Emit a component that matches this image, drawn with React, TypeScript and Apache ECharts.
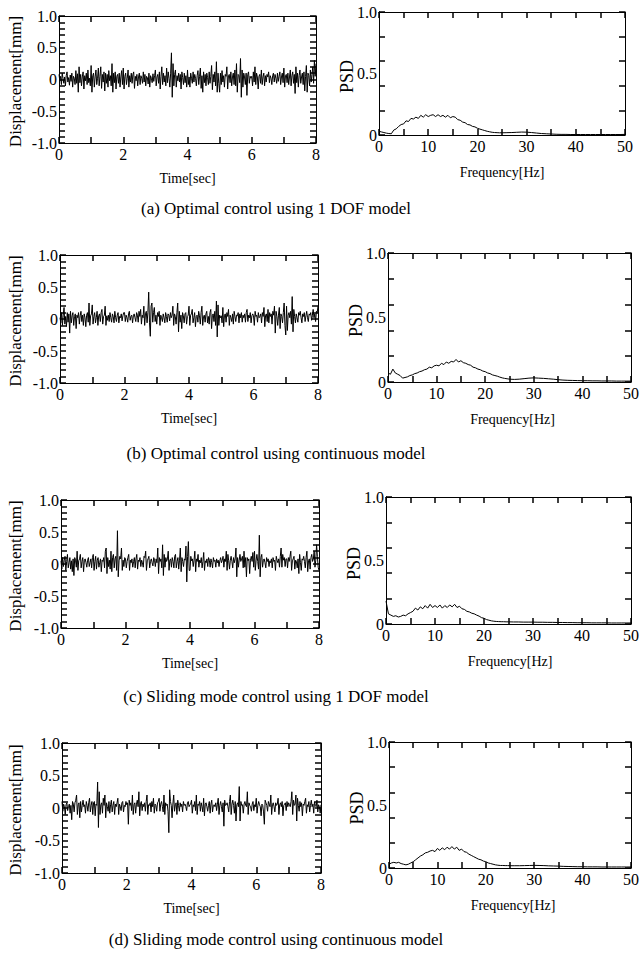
import React, { useEffect, useRef } from 'react';
import * as echarts from 'echarts';

// ---------- DATA ----------
const TIME_STEP = 0.025; // s, sample spacing of the displacement records
const TIME_TICKS = [0, 2, 4, 6, 8];
const FREQ_TICKS = [0, 10, 20, 30, 40, 50];

const DISP_A = [
  0.08,-0.02,0.05,-0.08,0.1,0.02,-0.06,0.04,-0.1,0.06,0.12,-0.04,0.03,-0.09,0.07,-0.03,0.1,-0.12,0.05,0.02,
  -0.08,0.14,-0.06,0.09,-0.2,0.2,-0.05,0.08,-0.1,0.04,0.12,-0.15,0.06,-0.02,0.1,-0.08,0.15,-0.05,0.02,-0.1,
  0.22,-0.2,0.06,0.1,-0.12,0.04,0.15,-0.08,0.02,0.18,-0.1,0.05,0.2,-0.14,0.08,-0.04,0.12,-0.18,0.1,-0.06,
  0.08,-0.12,0.14,-0.02,0.06,-0.1,0.25,-0.2,0.1,-0.05,0.12,-0.15,0.05,0.08,-0.06,0.1,-0.12,0.04,0.14,-0.08,
  0.18,-0.15,0.05,0.1,-0.08,0.02,0.15,-0.12,0.06,-0.04,0.1,-0.06,0.08,0.12,-0.14,0.05,-0.02,0.08,-0.1,0.04,
  0.1,-0.08,0.06,0.02,-0.06,0.12,-0.04,0.08,-0.1,0.05,0.03,-0.07,0.1,-0.12,0.06,0.02,-0.05,0.09,-0.03,0.06,
  0.15,-0.1,0.04,0.08,-0.06,0.12,-0.15,0.05,0.2,-0.08,0.1,-0.04,0.06,-0.1,0.18,-0.05,0.12,0.02,-0.12,0.1,
  0.42,-0.28,0.25,-0.1,0.08,0.15,-0.12,0.06,-0.02,0.1,-0.04,0.08,-0.15,0.12,0.03,-0.08,0.1,-0.05,0.06,-0.12,
  0.15,-0.08,0.04,-0.12,0.1,0.02,-0.06,0.12,-0.04,0.08,0.02,-0.1,0.06,0.14,-0.08,0.05,0.18,-0.14,0.06,-0.2,
  0.12,-0.05,0.08,-0.1,0.1,0.03,-0.08,0.12,-0.06,0.05,0.22,-0.16,0.08,-0.04,0.12,-0.1,0.28,-0.2,0.1,-0.06,
  -0.2,0.1,-0.08,0.14,-0.04,0.06,-0.12,0.08,0.05,0.2,-0.15,0.06,0.08,-0.05,0.12,-0.1,0.04,0.1,-0.08,0.15,
  -0.1,0.25,-0.2,0.08,0.06,-0.05,0.33,-0.28,0.15,-0.12,0.1,0.04,-0.08,0.1,-0.25,0.08,0.12,-0.06,0.05,0.02,
  0.05,-0.1,0.12,-0.04,0.2,-0.08,0.1,0.04,-0.15,0.05,0.08,-0.06,0.15,-0.08,0.04,0.1,-0.1,0.06,-0.04,0.08,
  0.04,0.12,-0.05,0.06,0.02,-0.08,0.06,0.1,-0.04,0.08,0.02,-0.06,0.1,-0.03,0.05,0.12,-0.08,0.04,0.1,-0.05,
  0.18,-0.12,0.06,0.08,-0.05,0.1,-0.08,0.04,0.15,-0.1,0.06,0.12,-0.06,0.08,-0.22,0.2,-0.05,0.1,-0.12,0.06,
  0.15,-0.06,0.04,0.1,-0.08,0.12,-0.18,0.05,0.22,-0.2,0.1,0.06,-0.1,0.15,-0.04,0.08,0.2,-0.06,0.3,0.05,
  0.25,
];
const DISP_B = [
  0.02,-0.06,0.1,-0.1,0.06,0.18,-0.08,0.04,-0.12,0.1,-0.05,0.08,-0.22,0.12,-0.06,0.05,0.1,-0.1,0.04,0.08,
  -0.15,0.06,0.02,0.1,-0.08,0.05,0.12,-0.04,0.06,-0.1,0.08,0.02,-0.12,0.06,0.1,-0.05,0.25,-0.1,0.05,0.08,
  0.22,-0.08,0.04,0.1,-0.06,0.02,0.12,-0.1,0.05,0.08,-0.04,0.1,0.15,-0.08,0.04,0.06,0.2,-0.1,0.05,-0.02,
  0.06,-0.04,0.1,0.02,-0.05,0.08,0.04,-0.06,0.12,0.02,-0.04,0.06,0.1,-0.06,0.04,0.02,0.08,-0.03,0.05,0.1,
  0.1,-0.04,0.06,0.02,-0.05,0.08,0.12,-0.02,0.04,0.06,-0.06,0.05,0.08,0.02,-0.04,0.1,0.06,-0.05,0.12,0.04,
  0.15,-0.08,0.06,0.02,0.2,-0.1,0.08,0.12,-0.06,0.1,0.42,-0.05,-0.27,0.2,0.25,-0.05,0.1,0.18,-0.04,0.06,
  -0.08,0.1,0.04,0.12,-0.1,0.06,0.02,-0.04,0.08,0.02,-0.06,0.1,0.04,-0.05,0.08,0.06,-0.03,0.1,0.02,0.06,
  0.2,-0.1,0.08,0.04,-0.08,0.1,0.25,-0.2,0.12,-0.05,0.06,-0.15,0.1,0.05,-0.06,0.08,0.1,-0.08,0.04,0.06,
  0.2,-0.1,0.06,0.08,0.15,-0.06,0.02,0.1,-0.12,0.04,0.06,-0.05,0.12,0.05,-0.08,0.1,0.2,-0.1,0.04,0.06,
  -0.05,0.08,0.12,-0.06,0.04,-0.08,0.1,0.15,-0.15,0.06,0.08,-0.04,0.12,-0.1,0.28,-0.28,0.22,-0.1,0.06,0.02,
  0.05,-0.06,0.18,-0.12,0.06,0.08,-0.05,0.1,0.04,0.15,-0.1,0.06,0.02,-0.04,0.08,-0.08,0.12,0.04,-0.04,0.06,
  0.05,0.1,-0.06,0.08,0.02,0.1,-0.05,0.06,0.02,0.08,-0.05,0.1,0.15,-0.04,0.06,0.02,0.1,-0.06,0.05,0.08,
  0.05,-0.1,0.12,0.04,0.06,-0.05,0.1,0.02,0.04,0.08,-0.06,0.1,0.04,0.18,-0.12,0.06,0.08,-0.04,0.15,-0.06,
  0.1,0.04,0.08,-0.08,0.12,0.06,0.2,-0.22,0.12,0.04,-0.1,0.06,0.18,-0.15,0.08,0.04,-0.06,0.1,0.25,-0.1,
  -0.25,0.2,-0.18,0.06,0.1,0.02,0.12,-0.08,0.35,-0.2,0.15,0.04,-0.06,0.08,0.02,-0.05,0.1,0.06,0.12,0.02,
  -0.06,0.08,0.04,0.1,-0.04,0.05,0.12,0.02,-0.04,0.08,0.06,0.1,-0.02,0.05,0.15,0.02,0.08,-0.04,0.12,0.1,
  0.2,
];
const DISP_C = [
  0.05,-0.08,0.1,-0.04,0.06,0.12,-0.1,0.04,0.15,-0.06,0.02,0.1,-0.08,0.05,-0.12,0.08,-0.18,0.1,0.06,-0.05,
  0.2,-0.1,0.05,0.08,0.15,-0.06,0.04,0.1,-0.12,0.06,0.08,0.02,-0.05,0.06,0.1,-0.04,0.02,0.08,-0.06,0.1,
  0.15,-0.1,0.04,0.12,-0.08,0.06,0.1,-0.05,0.02,0.08,-0.12,0.06,0.04,0.1,-0.06,0.2,0.25,-0.15,0.1,-0.04,
  0.06,-0.08,0.2,-0.12,0.1,0.15,-0.06,0.08,0.12,-0.1,0.52,-0.2,0.05,0.12,0.08,0.25,-0.1,0.06,-0.04,0.1,
  0.08,-0.06,0.04,0.1,0.15,-0.1,0.06,0.02,0.08,-0.05,0.04,0.1,-0.06,0.08,0.15,-0.08,0.06,0.04,0.1,-0.04,
  0.06,0.02,-0.05,0.12,0.1,0.2,-0.1,0.05,0.08,0.12,-0.06,0.04,0.08,0.02,-0.03,0.1,0.06,-0.04,0.08,0.02,
  0.25,-0.15,0.1,0.04,0.08,-0.06,0.3,-0.18,0.15,-0.05,0.1,0.04,0.08,0.2,-0.1,0.06,0.08,-0.05,0.1,0.04,
  -0.06,0.12,0.15,-0.06,0.04,0.1,-0.08,0.06,0.25,-0.12,0.1,0.04,-0.04,0.08,0.06,0.28,-0.28,0.12,0.35,-0.1,
  -0.1,0.12,0.05,0.08,-0.04,0.06,0.2,-0.12,0.08,0.04,0.15,-0.05,0.06,0.02,0.1,-0.06,0.04,0.18,-0.1,0.05,
  0.02,0.08,-0.04,0.1,0.06,-0.05,0.08,0.02,-0.06,0.1,0.04,0.06,-0.05,0.08,0.02,0.06,-0.04,0.05,0.1,0.02,
  0.06,0.12,-0.05,0.08,0.04,0.2,-0.1,0.15,0.05,-0.08,0.06,0.12,0.04,-0.06,0.1,0.02,0.08,0.25,-0.2,0.1,
  -0.05,0.06,0.15,0.04,0.08,0.12,-0.06,0.2,-0.05,0.1,-0.2,0.1,0.05,0.08,-0.15,0.06,0.12,0.04,0.18,-0.05,
  0.2,-0.1,0.06,0.15,0.04,-0.08,0.45,-0.2,0.1,0.15,-0.05,0.06,0.08,0.02,-0.06,0.1,0.04,0.08,-0.04,0.05,
  0.02,0.08,-0.06,0.1,0.04,0.06,-0.1,0.12,0.06,0.02,0.08,-0.05,0.12,0.25,-0.05,0.15,0.06,0.1,-0.04,0.08,
  0.08,-0.06,0.1,0.04,0.12,0.2,-0.1,0.05,0.08,0.12,-0.08,0.06,0.04,-0.06,0.08,-0.15,0.15,0.02,-0.1,0.08,
  0.06,0.12,0.04,-0.06,0.1,0.2,-0.12,0.05,0.08,-0.08,0.1,0.15,0.04,0.08,0.2,-0.05,0.06,0.3,0.12,-0.05,
  -0.1,
];
const DISP_D = [
  0.1,-0.05,0.06,0.02,-0.1,0.05,0.08,-0.04,0.02,0.06,-0.08,0.04,-0.18,0.1,0.06,-0.06,0.08,0.12,0.2,-0.1,
  0.05,0.08,-0.15,0.1,-0.06,0.04,0.12,0.02,0.05,-0.08,0.1,0.04,-0.05,0.08,0.15,-0.06,0.04,0.1,-0.1,0.08,
  0.1,-0.12,0.06,0.04,0.4,-0.3,0.25,-0.1,0.05,0.08,-0.08,0.15,0.04,0.2,-0.15,0.08,0.02,-0.05,0.1,-0.08,
  0.05,0.12,-0.06,0.04,0.1,-0.1,0.06,0.02,0.08,0.15,-0.1,0.06,0.02,-0.04,0.08,0.1,-0.06,0.04,0.02,0.1,
  0.05,0.08,-0.25,0.12,0.04,0.08,-0.04,0.2,-0.1,0.05,0.08,-0.08,0.06,0.12,0.02,0.25,-0.12,0.06,0.1,-0.04,
  0.06,0.02,0.08,-0.05,0.1,0.2,-0.1,0.05,0.04,0.08,-0.06,0.1,0.02,0.15,-0.08,0.06,0.04,-0.05,0.08,0.1,
  0.15,-0.05,0.06,0.1,0.02,-0.06,0.2,-0.1,0.08,0.04,0.06,-0.05,-0.38,0.28,0.1,0.04,-0.15,0.06,0.2,-0.05,
  0.05,0.08,-0.1,0.12,0.04,-0.05,0.08,0.02,0.06,-0.06,0.1,0.04,0.06,0.02,-0.04,0.08,0.1,0.02,0.05,0.06,
  0.12,-0.08,0.05,0.02,0.1,-0.04,0.2,-0.1,0.06,0.04,0.1,-0.05,0.08,0.02,-0.06,0.15,-0.12,0.06,0.08,0.02,
  -0.05,0.04,0.1,-0.08,0.06,0.12,-0.06,0.04,0.05,0.02,0.08,-0.04,0.06,0.15,-0.1,0.04,0.1,0.02,-0.06,0.08,
  -0.28,0.12,0.04,0.05,0.08,0.02,-0.06,0.1,0.2,-0.1,0.06,0.12,0.04,-0.08,0.1,-0.2,0.05,0.08,0.02,0.33,
  -0.2,0.1,0.04,0.05,-0.08,0.06,0.1,0.04,0.02,0.25,-0.1,0.08,0.04,0.02,-0.05,0.06,0.1,-0.04,0.05,0.02,
  0.15,-0.08,0.04,0.1,0.05,0.02,-0.12,0.06,0.04,-0.06,-0.25,0.12,0.08,0.04,-0.05,0.1,0.06,0.02,0.2,-0.1,
  0.05,0.08,0.02,-0.06,0.08,0.04,0.06,0.15,-0.1,0.05,0.08,0.02,0.1,-0.12,0.04,0.06,0.08,-0.04,0.1,0.02,
  0.08,0.05,0.02,0.1,0.25,-0.1,0.12,0.04,0.06,0.2,-0.2,0.15,0.04,-0.05,0.1,0.02,0.08,-0.12,0.06,0.04,
  0.1,0.15,-0.08,0.05,0.02,0.1,-0.06,0.04,0.12,0.02,0.06,-0.08,0.1,0.04,0.02,0.12,-0.06,0.05,0.02,-0.08,
  0.05,
];

// PSD samples: 0..25 Hz every 0.5 Hz (51 values), then 26..50 Hz every 1 Hz (25 values)
const PSD_A = [
  0.03,0.025,0.02,0.015,0.012,0.01,0.04,0.05,0.07,0.085,0.09,0.115,0.11,0.135,0.13,0.145,0.135,0.16,0.145,0.165,
  0.15,0.16,0.165,0.15,0.165,0.15,0.16,0.145,0.16,0.14,0.15,0.145,0.125,0.12,0.105,0.1,0.085,0.082,0.07,0.066,
  0.055,0.048,0.042,0.036,0.03,0.026,0.022,0.02,0.019,0.018,0.018,
  0.019,0.02,0.022,0.024,0.023,0.02,0.016,0.012,0.01,0.008,0.006,0.005,0.005,0.004,0.004,0.004,0.004,0.004,0.004,0.004,
  0.004,0.004,0.004,0.004,0.005,
];
const PSD_B = [
  0.07,0.06,0.1,0.07,0.06,0.05,0.03,0.035,0.04,0.05,0.055,0.065,0.07,0.08,0.085,0.095,0.1,0.115,0.11,0.125,
  0.13,0.125,0.145,0.135,0.155,0.145,0.16,0.155,0.175,0.155,0.165,0.15,0.145,0.135,0.13,0.115,0.11,0.1,0.095,0.085,
  0.08,0.07,0.065,0.055,0.05,0.045,0.038,0.032,0.028,0.025,0.022,
  0.02,0.022,0.026,0.03,0.032,0.03,0.028,0.025,0.022,0.018,0.015,0.013,0.012,0.011,0.01,0.01,0.009,0.009,0.008,0.008,
  0.008,0.007,0.007,0.007,0.007,
];
const PSD_C = [
  0.18,0.08,0.07,0.06,0.065,0.055,0.06,0.07,0.065,0.08,0.09,0.1,0.125,0.11,0.135,0.12,0.145,0.125,0.155,0.13,
  0.145,0.13,0.15,0.125,0.145,0.13,0.15,0.135,0.155,0.13,0.14,0.12,0.115,0.1,0.095,0.085,0.08,0.07,0.062,0.05,
  0.045,0.035,0.03,0.025,0.022,0.02,0.019,0.018,0.018,0.017,0.017,
  0.016,0.016,0.015,0.015,0.015,0.014,0.014,0.013,0.013,0.012,0.012,0.011,0.011,0.01,0.01,0.01,0.009,0.009,0.009,0.009,
  0.008,0.008,0.008,0.008,0.008,
];
const PSD_D = [
  0.03,0.04,0.045,0.04,0.045,0.035,0.03,0.025,0.03,0.04,0.05,0.065,0.08,0.095,0.105,0.12,0.125,0.135,0.14,0.13,
  0.155,0.14,0.16,0.145,0.165,0.15,0.17,0.15,0.165,0.14,0.15,0.13,0.125,0.11,0.1,0.09,0.08,0.07,0.065,0.055,
  0.05,0.04,0.035,0.03,0.025,0.022,0.02,0.02,0.019,0.019,0.018,
  0.018,0.018,0.019,0.02,0.021,0.02,0.019,0.017,0.016,0.015,0.013,0.012,0.011,0.01,0.01,0.009,0.009,0.009,0.008,0.008,
  0.008,0.008,0.008,0.008,0.008,
];

const DISP_SERIES = [DISP_A, DISP_B, DISP_C, DISP_D];
const PSD_SERIES = [PSD_A, PSD_B, PSD_C, PSD_D];
const CAPTIONS = [
  '(a) Optimal control using 1 DOF model',
  '(b) Optimal control using continuous model',
  '(c) Sliding mode control using 1 DOF model',
  '(d) Sliding mode control using continuous model',
];
const TIME_LABEL = 'Time[sec]';
const FREQ_LABEL = 'Frequency[Hz]';
const DISP_LABEL = 'Displacement[mm]';
const PSD_LABEL = 'PSD';

// ---------- LAYOUT ----------
const TIME_GRIDS = [
  { left: 59, top: 16, width: 257, height: 127 },
  { left: 60, top: 255, width: 258, height: 128 },
  { left: 61, top: 500, width: 258, height: 128 },
  { left: 62, top: 743, width: 259, height: 130 },
];
const PSD_GRIDS = [
  { left: 379, top: 12, width: 246, height: 123 },
  { left: 388, top: 253, width: 249, height: 129 },
  { left: 386, top: 497, width: 248, height: 127 },
  { left: 389, top: 742, width: 248, height: 126 },
];
const CAPTION_Y = [208, 453, 696, 939];
const CAPTION_X = 276;

const FONT = '"Liberation Serif", "Times New Roman", serif';
const BLACK = '#000';
const TICK_LEN = 6;
const TICK_W = 1.5;

function timePairs(v: number[]) {
  return v.map((y, i) => [Math.round(i * TIME_STEP * 1000) / 1000, y]);
}
function psdPairs(v: number[]) {
  return v.map((y, i) => [i <= 50 ? i * 0.5 : 25 + (i - 50), y]);
}
const fmt = (v: number) => (v === 0 ? '0' : v.toFixed(1));

function buildOption() {
  const grid: any[] = [];
  const xAxis: any[] = [];
  const yAxis: any[] = [];
  const series: any[] = [];
  const graphic: any[] = [];

  const mkX = (gi: number, pos: string, min: number, max: number, interval: number, split: number, lbl: boolean) => ({
    type: 'value', gridIndex: gi, position: pos, min, max, interval,
    splitLine: { show: false },
    axisLine: { show: true, onZero: false, lineStyle: { color: BLACK, width: 1 } },
    axisTick: { show: true, inside: true, length: TICK_LEN, lineStyle: { color: BLACK, width: TICK_W } },
    minorTick: { show: true, splitNumber: split, length: TICK_LEN, lineStyle: { color: BLACK, width: TICK_W } },
    minorSplitLine: { show: false },
    axisLabel: lbl ? { color: BLACK, fontFamily: FONT, fontSize: 16, margin: 3 } : { show: false },
  });
  const mkY = (gi: number, pos: string, min: number, max: number, interval: number, split: number, lbl: boolean, ticks: boolean) => ({
    type: 'value', gridIndex: gi, position: pos, min, max, interval,
    splitLine: { show: false },
    axisLine: { show: true, onZero: false, lineStyle: { color: BLACK, width: 1 } },
    axisTick: { show: ticks, inside: true, length: TICK_LEN, lineStyle: { color: BLACK, width: TICK_W } },
    minorTick: { show: ticks && split > 1, splitNumber: split > 1 ? split : 5, length: TICK_LEN, lineStyle: { color: BLACK, width: TICK_W } },
    minorSplitLine: { show: false },
    axisLabel: lbl ? { color: BLACK, fontFamily: FONT, fontSize: 16, margin: 2, formatter: fmt } : { show: false },
  });

  for (let r = 0; r < 4; r++) {
    // time plot
    const tg = TIME_GRIDS[r];
    const gi = grid.length;
    grid.push({ left: tg.left, top: tg.top, width: tg.width, height: tg.height, containLabel: false });
    const xi = xAxis.length;
    xAxis.push(mkX(gi, 'bottom', TIME_TICKS[0], TIME_TICKS[TIME_TICKS.length - 1], 2, 2, true));
    xAxis.push(mkX(gi, 'top', TIME_TICKS[0], TIME_TICKS[TIME_TICKS.length - 1], 2, 2, false));
    const yi = yAxis.length;
    yAxis.push(mkY(gi, 'left', -1, 1, 0.5, 5, true, true));
    yAxis.push(mkY(gi, 'right', -1, 1, 0.5, 5, false, true));
    series.push({
      type: 'line', xAxisIndex: xi, yAxisIndex: yi, data: timePairs(DISP_SERIES[r]),
      showSymbol: false, symbol: 'none', lineStyle: { color: BLACK, width: 1 }, silent: true,
    });
    graphic.push({
      type: 'text', x: 15, y: tg.top + tg.height / 2 + 2, rotation: Math.PI / 2,
      style: { text: DISP_LABEL, fill: BLACK, font: `17px ${FONT}`, align: 'center', verticalAlign: 'middle' },
    });
    graphic.push({
      type: 'text', x: tg.left + tg.width / 2, y: tg.top + tg.height + 35,
      style: { text: TIME_LABEL, fill: BLACK, font: `14px ${FONT}`, align: 'center', verticalAlign: 'middle' },
    });

    // PSD plot
    const pg = PSD_GRIDS[r];
    const gj = grid.length;
    grid.push({ left: pg.left, top: pg.top, width: pg.width, height: pg.height, containLabel: false });
    const xj = xAxis.length;
    xAxis.push(mkX(gj, 'bottom', FREQ_TICKS[0], FREQ_TICKS[FREQ_TICKS.length - 1], 10, 2, true));
    xAxis.push(mkX(gj, 'top', FREQ_TICKS[0], FREQ_TICKS[FREQ_TICKS.length - 1], 10, 2, false));
    const yj = yAxis.length;
    yAxis.push(mkY(gj, 'left', 0, 1, 0.5, 0, true, false));
    yAxis.push(mkY(gj, 'left', 0, 1, 0.2, 0, false, true));
    yAxis.push(mkY(gj, 'right', 0, 1, 0.2, 0, false, true));
    series.push({
      type: 'line', xAxisIndex: xj, yAxisIndex: yj, data: psdPairs(PSD_SERIES[r]),
      showSymbol: false, symbol: 'none', lineStyle: { color: BLACK, width: 1 }, silent: true,
    });
    graphic.push({
      type: 'text', x: pg.left - 32, y: pg.top + pg.height / 2 + 3, rotation: Math.PI / 2,
      style: { text: PSD_LABEL, fill: BLACK, font: `18px ${FONT}`, align: 'center', verticalAlign: 'middle' },
    });
    graphic.push({
      type: 'text', x: pg.left + pg.width / 2, y: pg.top + pg.height + 37,
      style: { text: FREQ_LABEL, fill: BLACK, font: `14px ${FONT}`, align: 'center', verticalAlign: 'middle' },
    });

    graphic.push({
      type: 'text', x: CAPTION_X, y: CAPTION_Y[r],
      style: { text: CAPTIONS[r], fill: BLACK, font: `17px ${FONT}`, align: 'center', verticalAlign: 'middle' },
    });
  }

  return {
    animation: false,
    backgroundColor: '#fff',
    grid, xAxis, yAxis, series, graphic,
  };
}

export default function App() {
  const ref = useRef<HTMLDivElement>(null);
  useEffect(() => {
    if (!ref.current) return;
    const chart = echarts.init(ref.current, undefined, { renderer: 'svg' });
    chart.setOption(buildOption());
    return () => chart.dispose();
  }, []);
  return (
    <div
      ref={ref}
      style={{ position: 'absolute', left: 0, top: 0, width: 642, height: 963, background: '#fff' }}
    />
  );
}
